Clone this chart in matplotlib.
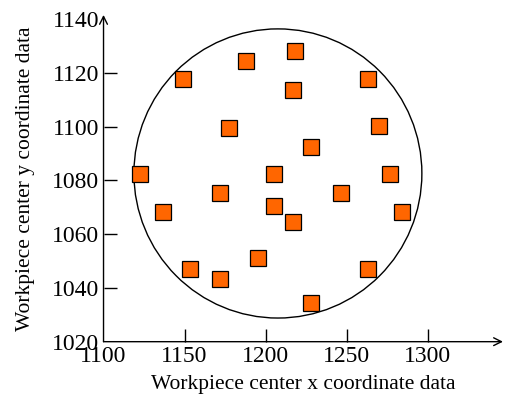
import matplotlib

matplotlib.use("Agg")
import matplotlib.pyplot as plt
from matplotlib.patches import Ellipse

# workpiece centre positions
x_data = [1122.5, 1136.7, 1149.0, 1153.4, 1171.9, 1171.9, 1177.4, 1187.9,
          1195.3, 1205.2, 1205.2, 1216.9, 1216.9, 1218.1, 1228.0, 1228.0,
          1246.5, 1263.2, 1263.2, 1270.0, 1276.7, 1284.1]
y_data = [1082.4, 1068.3, 1117.8, 1047.0, 1075.3, 1043.3, 1099.5, 1124.4,
          1051.1, 1082.4, 1070.5, 1113.7, 1064.5, 1128.2, 1092.5, 1034.4,
          1075.3, 1117.8, 1047.0, 1100.3, 1082.4, 1068.3]

# fitted boundary (centre and diameters in data units)
circle_center = (1207.6, 1082.6)
circle_width = 177.7
circle_height = 107.6

x_ticks = [1100, 1150, 1200, 1250, 1300]
y_ticks = [1020, 1040, 1060, 1080, 1100, 1120, 1140]

plt.rcParams["font.family"] = ["Liberation Serif", "DejaVu Serif"]

fig = plt.figure(figsize=(5.05, 3.98), dpi=100)
ax = fig.add_axes([0.205, 0.1415, 0.791, 0.821])
ax.set_xlim(1100, 1346.5)
ax.set_ylim(1020, 1141.6)

ax.add_patch(Ellipse(circle_center, circle_width, circle_height,
                     fill=False, edgecolor="black", linewidth=1.0))
ax.plot(x_data, y_data, linestyle="none", marker="s", markersize=11.5,
        markerfacecolor="#ff6600", markeredgecolor="black",
        markeredgewidth=0.9)

for side in ("top", "right", "left", "bottom"):
    ax.spines[side].set_visible(False)

# axes drawn as arrows
ax.annotate("", xy=(1.0, 0), xytext=(0, 0), xycoords="axes fraction",
            arrowprops=dict(arrowstyle="->", color="black", lw=1.0,
                            shrinkA=0, shrinkB=0, mutation_scale=14))
ax.annotate("", xy=(0, 1.0), xytext=(0, 0), xycoords="axes fraction",
            arrowprops=dict(arrowstyle="->", color="black", lw=1.0,
                            shrinkA=0, shrinkB=0, mutation_scale=14))

ax.set_xticks(x_ticks)
ax.set_yticks(y_ticks)
ax.tick_params(direction="in", length=9.5, width=1.0, labelsize=17)
ax.tick_params(axis="x", pad=3)
ax.tick_params(axis="y", pad=3)
for t in ax.xaxis.get_major_ticks()[:1]:
    t.tick1line.set_visible(False)
for t in (ax.yaxis.get_major_ticks()[0], ax.yaxis.get_major_ticks()[-1]):
    t.tick1line.set_visible(False)

ax.set_xlabel("Workpiece center x coordinate data", fontsize=15.5, labelpad=6)
ax.set_ylabel("Workpiece center y coordinate data", fontsize=15.5, labelpad=12)

fig.savefig("out.png", dpi=100)
